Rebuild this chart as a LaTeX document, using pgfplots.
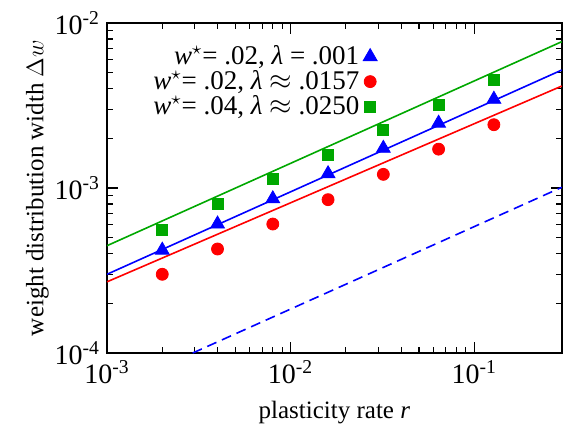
\documentclass[border=0pt]{standalone}
\usepackage{pgfplots}
\pgfplotsset{compat=1.18}
\usepackage{fontspec}
\setmainfont{Liberation Serif}
\definecolor{cblue}{RGB}{0,0,255}
\definecolor{cred}{RGB}{255,0,0}
\definecolor{cgreen}{RGB}{0,168,0}
\begin{document}
\begin{tikzpicture}[font=\fontsize{14}{16}\selectfont]
\begin{axis}[
  name=ax,
  scale only axis,
  width=227.4pt, height=165pt,
  xmode=log, ymode=log,
  xmin=0.001, xmax=0.3,
  ymin=1e-4, ymax=1e-2,
  xtick={0.001,0.01,0.1},
  xticklabels={10\textsuperscript{-3},10\textsuperscript{-2},10\textsuperscript{-1}},
  ytick={1e-4,1e-3,1e-2},
  yticklabels={10\textsuperscript{-4},10\textsuperscript{-3},10\textsuperscript{-2}},
  tick label style={font=\fontsize{14}{16}\selectfont},
  tick align=inside,
  major tick length=5.5pt,
  minor tick length=3pt,
  every tick/.style={black, line width=0.6pt},
  axis line style={line width=1pt},
  xlabel={plasticity rate \textit{r}},
  ylabel={weight distribution width $\Delta w$},
  label style={font=\fontsize{12.5}{15}\selectfont},
  xlabel style={yshift=-2pt},
  ylabel style={yshift=-4pt},
  clip=true,
  legend style={at={(axis description cs:0.608,0.957)}, anchor=north east,
    draw=none, fill=none, legend cell align=right, row sep=-2.5pt,
    font=\fontsize{13.5}{14}\selectfont,
    /tikz/every even column/.append style={column sep=7pt}},
  legend plot pos=right,
]
% fitted lines
\addplot[cblue, line width=0.8pt, forget plot] coordinates {(0.001,3.0e-4) (0.3,5.19e-3)};
\addplot[cred, line width=0.8pt, forget plot] coordinates {(0.001,2.70e-4) (0.3,4.15e-3)};
\addplot[cgreen, line width=0.8pt, forget plot] coordinates {(0.001,4.47e-4) (0.3,7.71e-3)};
\addplot[cblue, line width=0.8pt, dashed, dash pattern=on 5pt off 3pt, forget plot] coordinates {(0.00293,1.0e-4) (0.3,1.01e-3)};
% data
\addplot[only marks, mark=triangle*, mark size=4pt, color=cblue] coordinates {
 (0.002,4.2e-4) (0.004,6.05e-4) (0.008,8.6e-4) (0.016,1.22e-3) (0.032,1.74e-3) (0.064,2.47e-3) (0.128,3.45e-3)};
\addlegendentry{\textit{w}$^\star$= .02, \textit{λ} = .001}
\addplot[only marks, mark=*, mark size=3pt, color=cred] coordinates {
 (0.002,3.0e-4) (0.004,4.27e-4) (0.008,6.05e-4) (0.016,8.5e-4) (0.032,1.21e-3) (0.064,1.72e-3) (0.128,2.42e-3)};
\addlegendentry{\textit{w}$^\star$= .02, \textit{λ} $\approx$ .0157}
\addplot[only marks, mark=square*, mark size=2.75pt, color=cgreen] coordinates {
 (0.002,5.6e-4) (0.004,8.0e-4) (0.008,1.13e-3) (0.016,1.58e-3) (0.032,2.25e-3) (0.064,3.18e-3) (0.128,4.51e-3)};
\addlegendentry{\textit{w}$^\star$= .04, \textit{λ} $\approx$ .0250}
\end{axis}
\pgfresetboundingbox
\path ([shift={(-53.5pt,-38.5pt)}]ax.south west) rectangle ([shift={(230pt,176.5pt)}]ax.south west);
\end{tikzpicture}
\end{document}
